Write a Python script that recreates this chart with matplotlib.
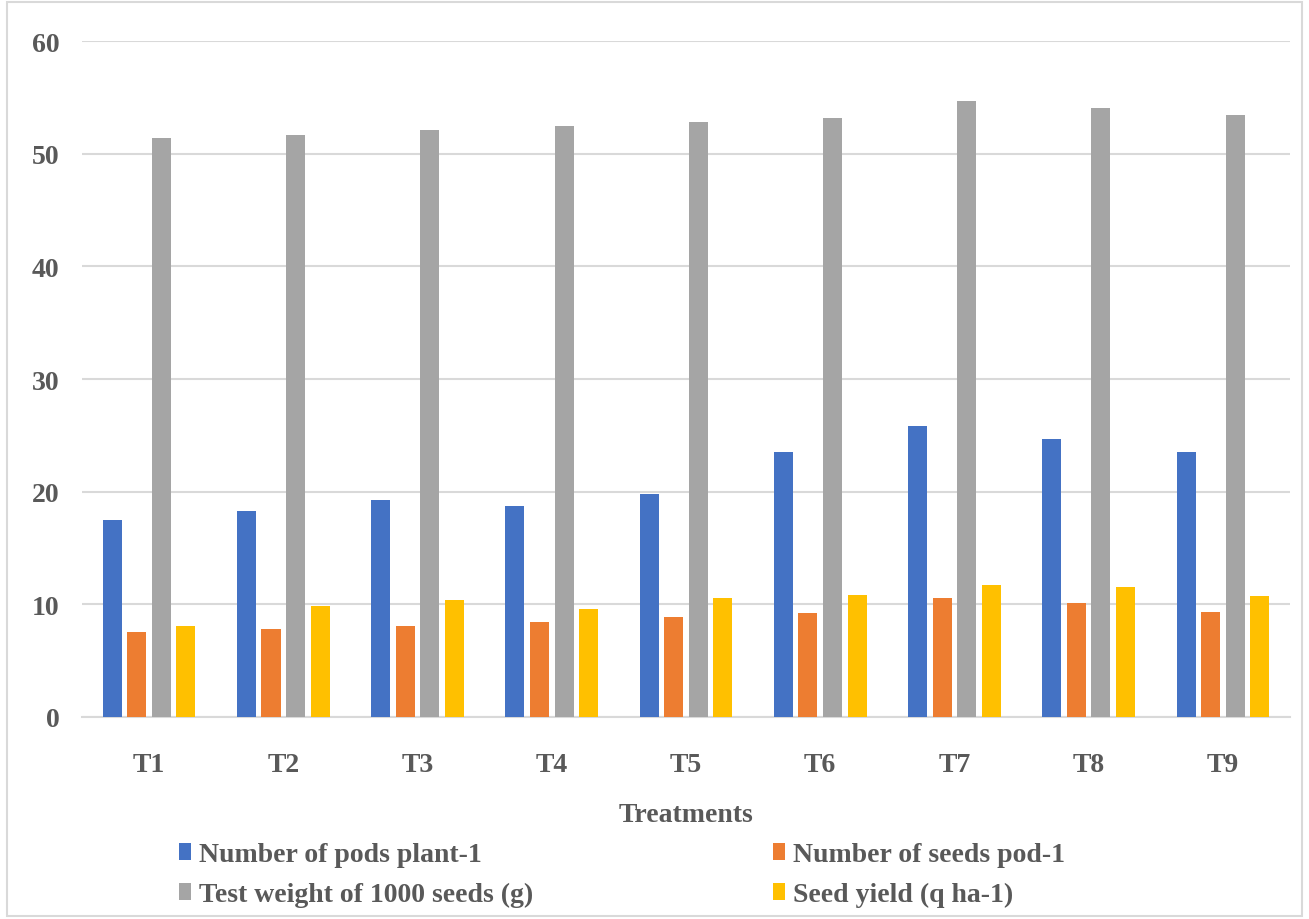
import matplotlib.pyplot as plt
import numpy as np
from matplotlib.patches import Rectangle

treatments = ["T1", "T2", "T3", "T4", "T5", "T6", "T7", "T8", "T9"]
pods_per_plant = [17.5, 18.25, 19.26, 18.72, 19.79, 23.53, 25.82, 24.69, 23.53]
seeds_per_pod = [7.57, 7.83, 8.04, 8.46, 8.84, 9.2, 10.59, 10.09, 9.35]
test_weight = [51.39, 51.69, 52.11, 52.46, 52.82, 53.18, 54.69, 54.07, 53.47]
seed_yield = [8.04, 9.85, 10.39, 9.58, 10.53, 10.83, 11.75, 11.51, 10.71]

series = [
    ("Number of pods plant-1", pods_per_plant, "#4472c4"),
    ("Number of seeds pod-1", seeds_per_pod, "#ed7d31"),
    ("Test weight of 1000 seeds (g)", test_weight, "#a5a5a5"),
    ("Seed yield (q ha-1)", seed_yield, "#ffc000"),
]

plt.rcParams['font.family'] = ['Liberation Serif', 'DejaVu Serif']
plt.rcParams['font.weight'] = 'bold'
text_color = "#595959"

fig = plt.figure(figsize=(13.09, 9.2), dpi=100)
ax = fig.add_axes([0.0626, 0.2196, 0.9229, 0.7347])

# outer chart border
fig.patches.append(Rectangle((0.005, 0.003), 0.99, 0.994, transform=fig.transFigure,
                             fill=False, edgecolor="#d9d9d9", linewidth=1.5))

x = np.arange(len(treatments))
width = 0.142
pitch = 0.183
bars = []
for i, (name, vals, color) in enumerate(series):
    b = ax.bar(x + (i - 1.5) * pitch, vals, width, color=color, label=name, zorder=3)
    bars.append(b)

ax.set_xlim(-0.5, len(treatments) - 0.5)
ax.set_ylim(0, 60)
ax.set_yticks(range(0, 61, 10))
ax.yaxis.grid(True, color="#d9d9d9", linewidth=1.5, zorder=0)
ax.set_axisbelow(True)
for s in ["top", "right", "left"]:
    ax.spines[s].set_visible(False)
ax.spines["bottom"].set_color("#d9d9d9")
ax.spines["bottom"].set_linewidth(1.5)
ax.tick_params(length=0, labelsize=20, colors=text_color, pad=16)
ax.set_xticks(x)
ax.set_xticklabels(treatments)
ax.tick_params(axis="x", pad=25)
for lab in ax.get_xticklabels() + ax.get_yticklabels():
    lab.set_fontweight("bold")
ax.set_xlabel("Treatments", fontsize=20, fontweight="bold", color=text_color, labelpad=18)

# legend: row 1 = pods, seeds; row 2 = test weight, yield
order = [0, 2, 1, 3]
leg = fig.legend([bars[i] for i in order], [series[i][0] for i in order],
                 ncol=2, loc="lower left", bbox_to_anchor=(0.128, 0.001),
                 frameon=False, fontsize=20, handlelength=0.45, handleheight=0.55,
                 handletextpad=0.3, columnspacing=8.6, labelspacing=0.53,
                 borderaxespad=0)
for t in leg.get_texts():
    t.set_color(text_color)
    t.set_fontweight("bold")

fig.savefig("out.png", dpi=100)
